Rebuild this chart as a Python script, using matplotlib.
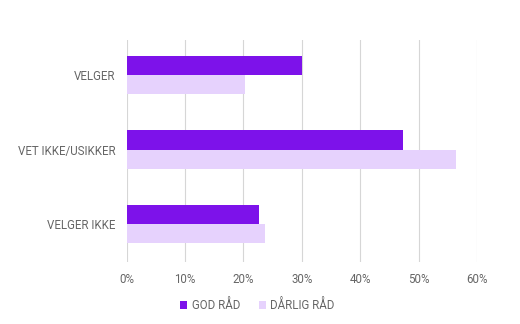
import matplotlib
matplotlib.use("Agg")
import matplotlib.pyplot as plt
from matplotlib.ticker import FuncFormatter
import numpy as np

categories = ["VELGER", "VET IKKE/USIKKER", "VELGER IKKE"]
god_rad = [30.0, 47.4, 22.7]
darlig_rad = [20.2, 56.4, 23.7]
series_names = ["GOD RÅD", "DÅRLIG RÅD"]
x_ticks = [0, 10, 20, 30, 40, 50, 60]

plt.rcParams['font.family'] = ['Roboto', 'DejaVu Sans']

fig = plt.figure(figsize=(5.2, 3.24), dpi=100)
ax = fig.add_axes([0.2433, 0.1914, 0.9173 - 0.2433, 0.8765 - 0.1914])

y = np.arange(len(categories))
h = 0.26
ax.barh(y - h / 2, god_rad, height=h, color="#7d12ea", label=series_names[0], zorder=3)
ax.barh(y + h / 2, darlig_rad, height=h, color="#e6d2fd", label=series_names[1], zorder=3)

ax.set_ylim(2.51, -0.47)
ax.set_xlim(0, 60)
ax.set_xticks(x_ticks)
ax.xaxis.set_major_formatter(FuncFormatter(lambda v, p: f"{v:.0f}%"))
ax.set_yticks(y)
ax.set_yticklabels(categories)
ax.grid(axis="x", color="#d6d6d6", linewidth=0.8, zorder=0)
for s in ax.spines.values():
    s.set_visible(False)
ax.tick_params(axis="both", length=0, labelsize=8.3, labelcolor="#666666")
ax.tick_params(axis="x", pad=8)
ax.tick_params(axis="y", pad=8)

leg = fig.legend(loc="lower center", bbox_to_anchor=(0.495, 0.005), ncol=2, frameon=False,
                 fontsize=8.3, handlelength=0.6, handleheight=0.6, handletextpad=0.4,
                 columnspacing=1.6, labelcolor="#666666")

fig.savefig("out.png", dpi=100)
